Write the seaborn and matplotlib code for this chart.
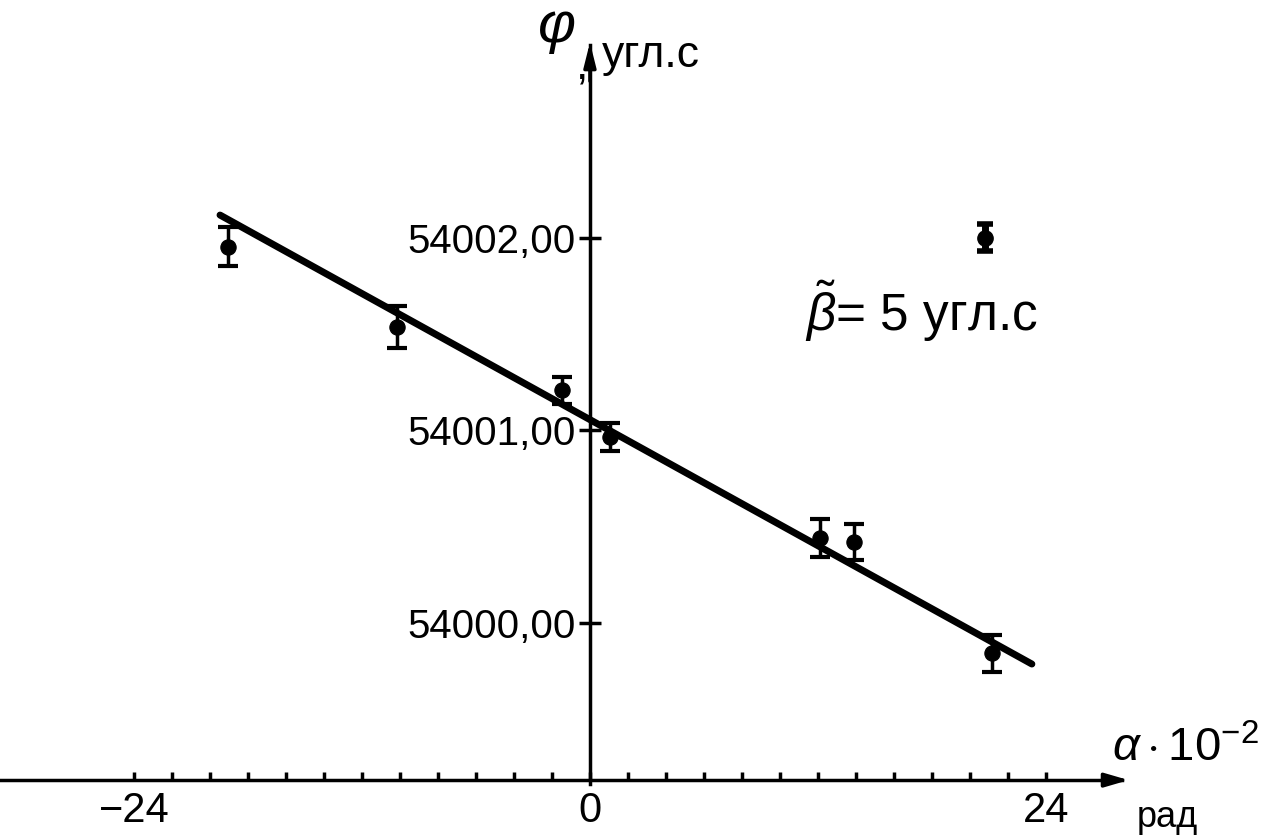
import matplotlib
matplotlib.use("Agg")
import matplotlib.pyplot as plt
import seaborn as sns
import numpy as np
import pandas as pd

# ---- data ----
alpha = [-19.05, -10.17, -1.47, 1.05, 12.1, 13.89, 21.16]          # α·10^-2, рад
phi = [54001.955, 54001.539, 54001.210, 54000.966, 54000.442, 54000.420, 53999.844]  # φ, угл.с
phi_err = [0.10, 0.108, 0.07, 0.075, 0.10, 0.095, 0.096]
fit_alpha = [-19.47, 23.26]
fit_phi = [54002.119, 53999.787]
sample_alpha = [20.79]
sample_phi = [54002.0]
sample_err = [0.07]
x_ticks = list(range(-24, 25, 2))
x_ticklabels = {-24: "\u221224", 0: "0", 24: "24"}
y_ticks = [54000.0, 54001.0, 54002.0]
y_ticklabels = ["54000,00", "54001,00", "54002,00"]

df = pd.DataFrame({"alpha": alpha, "phi": phi})
fit_df = pd.DataFrame({"alpha": fit_alpha, "phi": fit_phi})

sns.set_theme(style="white")
plt.rcParams["font.family"] = ["Liberation Sans", "DejaVu Sans"]
plt.rcParams["mathtext.fontset"] = "custom"
plt.rcParams["mathtext.rm"] = "Liberation Sans"
plt.rcParams["mathtext.it"] = "Liberation Sans:italic"
plt.rcParams["text.color"] = "black"

fig = plt.figure(figsize=(12.69, 8.35), dpi=100)
ax = fig.add_axes([0, 0, 1, 1])
ax.set_xlim(-31.05, 35.74)
ax.set_ylim(53998.899, 54003.236)
x_axis_y = 53999.184

# fit line
sns.lineplot(data=fit_df, x="alpha", y="phi", ax=ax, color="black", lw=5,
             solid_capstyle="round")
# measurement points with error bars
ax.errorbar(alpha, phi, yerr=phi_err, fmt="none", ecolor="black",
            elinewidth=2.5, capsize=7, capthick=3)
sns.scatterplot(data=df, x="alpha", y="phi", ax=ax, color="black", s=120,
                edgecolor="black", zorder=5)
# sample error bar
ax.errorbar(sample_alpha, sample_phi, yerr=sample_err, fmt="o", color="black",
            ms=11, elinewidth=5, capsize=6, capthick=4)

# axes through origin
for s in ["top", "right"]:
    ax.spines[s].set_visible(False)
ax.spines["left"].set_position(("data", 0))
ax.spines["bottom"].set_position(("data", x_axis_y))
ax.spines["left"].set_bounds(x_axis_y - 0.02, 54003.0)
ax.spines["bottom"].set_bounds(-31.05, 28.0)
for s in ["left", "bottom"]:
    ax.spines[s].set_linewidth(2.5)
    ax.spines[s].set_color("black")

# arrows
ax.annotate("", xy=(28.5, x_axis_y), xytext=(27.0, x_axis_y),
            arrowprops=dict(arrowstyle="-|>,head_length=1.2,head_width=0.35",
                            color="black", lw=2.5))
ax.annotate("", xy=(0, 54003.03), xytext=(0, 54002.8),
            arrowprops=dict(arrowstyle="-|>,head_length=1.2,head_width=0.3",
                            color="black", lw=2.5))

ax.set_xticks(x_ticks)
ax.set_xticklabels([x_ticklabels.get(t, "") for t in x_ticks], fontsize=30)
ax.set_yticks(y_ticks)
ax.set_yticklabels(y_ticklabels, fontsize=29)
ax.tick_params(axis="x", bottom=True, direction="in", length=6, width=2.5, pad=8,
               colors="black")
ax.tick_params(axis="y", left=True, direction="inout", length=16, width=2.5, pad=2,
               colors="black")
ax.set_xlabel("")
ax.set_ylabel("")

# texts
ax.text(-2.75, 54003.235, "\u03c6", fontsize=42, style="italic", ha="left", va="top")
ax.text(-0.75, 54002.78, ",", fontsize=32, ha="left", va="bottom")
ax.text(0.6, 54002.84, "угл.с", fontsize=32, ha="left", va="bottom")
ax.text(27.5, 53999.23, r"$\alpha\cdot10^{-2}$", fontsize=34, ha="left", va="bottom")
ax.text(28.8, 53998.90, "рад", fontsize=26, ha="left", va="bottom")
ax.text(11.3, 54001.45, r"$\tilde{\beta}$= 5 угл.с", fontsize=37, ha="left", va="bottom")

fig.savefig("out.png", dpi=100)
